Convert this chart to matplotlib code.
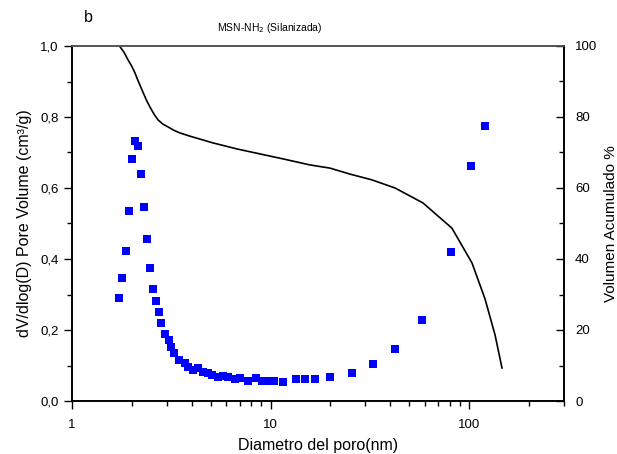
import matplotlib
matplotlib.use("Agg")
import matplotlib.pyplot as plt
from matplotlib.ticker import FixedLocator, FuncFormatter, MultipleLocator, LogLocator, NullFormatter

plt.rcParams['font.family'] = ['Liberation Sans', 'DejaVu Sans']

# Pore size distribution (scatter, left axis)
diam_nm = [1.725, 1.785, 1.870, 1.937, 2.005, 2.076, 2.149, 2.225, 2.304, 2.385,
           2.469, 2.556, 2.646, 2.741, 2.808, 2.93, 3.08, 3.17, 3.28, 3.46,
           3.71, 3.84, 4.07, 4.31, 4.57, 4.84, 5.07, 5.44, 5.76, 6.11,
           6.63, 7.02, 7.70, 8.45, 9.06, 9.71, 10.4, 11.56, 13.4, 14.9,
           16.8, 19.95, 25.7, 32.8, 42.4, 58.0, 81.2, 102.4, 120.5]
dv_dlogd = [0.290, 0.346, 0.423, 0.535, 0.682, 0.732, 0.718, 0.639, 0.546, 0.456,
            0.375, 0.315, 0.282, 0.251, 0.220, 0.189, 0.172, 0.152, 0.135, 0.115,
            0.107, 0.096, 0.087, 0.093, 0.082, 0.079, 0.073, 0.068, 0.070, 0.068,
            0.062, 0.065, 0.056, 0.065, 0.056, 0.056, 0.056, 0.054, 0.062, 0.062,
            0.062, 0.068, 0.079, 0.104, 0.146, 0.228, 0.420, 0.662, 0.775]

# Cumulative volume (line, right axis)
cum_diam = [1.70, 1.745, 1.83, 1.915, 2.0, 2.076, 2.16, 2.253, 2.36, 2.47, 2.59,
            2.71, 2.87, 3.045, 3.25, 3.50, 3.93,
            5.13, 6.78, 8.85, 11.56, 15.8, 19.94, 25.2, 32.4, 42.4, 58.6,
            82.0, 103.5, 120.5, 135.3, 146.6]
cum_pct = [100.5, 99.8, 98.2, 96.1, 94.3, 92.4, 90.0, 87.6, 85.0, 82.8, 80.8,
           79.2, 78.0, 77.2, 76.3, 75.5, 74.6,
           72.7, 71.0, 69.6, 68.2, 66.5, 65.6, 63.9, 62.3, 60.0, 55.8,
           48.7, 38.9, 28.7, 18.6, 9.3]

left_ticks = [0.0, 0.2, 0.4, 0.6, 0.8, 1.0]
right_ticks = [0, 20, 40, 60, 80, 100]
x_ticks = [1, 10, 100]

fig = plt.figure(figsize=(6.17, 4.54), dpi=100)
ax = fig.add_axes([72/617, 1-401/454, (564-72)/617, (401-46)/454])

ax.plot(diam_nm, dv_dlogd, 's', color=(0, 0, 1), markersize=5.8, markeredgewidth=0, zorder=3)
ax.set_xscale('log')
ax.set_xlim(1, 301)
ax.set_ylim(0, 1.0)
ax.xaxis.set_major_locator(FixedLocator(x_ticks))
ax.xaxis.set_major_formatter(FuncFormatter(lambda v, p: f"{v:g}"))
ax.xaxis.set_minor_locator(LogLocator(base=10, subs=range(2, 10)))
ax.xaxis.set_minor_formatter(NullFormatter())
ax.yaxis.set_major_locator(FixedLocator(left_ticks))
ax.yaxis.set_minor_locator(MultipleLocator(0.1))
ax.yaxis.set_major_formatter(FuncFormatter(lambda v, p: f"{v:.1f}".replace('.', ',')))
ax.tick_params(which='major', direction='out', length=6, width=1, labelsize=9.5, top=False)
ax.tick_params(which='minor', direction='out', length=3.5, width=1, top=False)
ax.tick_params(axis='x', which='major', pad=7)
ax.set_xlabel('Diametro del poro(nm)', fontsize=11.5, labelpad=5)
ax.set_ylabel('dV/dlog(D) Pore Volume (cm³/g)', fontsize=11.5, labelpad=6)
for s in ax.spines.values():
    s.set_linewidth(1.2)
ax.spines['top'].set_color('#555555')

ax2 = ax.twinx()
ax2.plot(cum_diam, cum_pct, '-', color='black', linewidth=1.2, zorder=2)
ax2.set_ylim(0, 100)
ax2.yaxis.set_major_locator(FixedLocator(right_ticks))
ax2.yaxis.set_minor_locator(MultipleLocator(10))
ax2.tick_params(which='major', direction='in', length=6, width=1, labelsize=9.5, pad=8)
ax2.tick_params(which='minor', direction='in', length=3.5, width=1)
ax2.set_ylabel('Volumen Acumulado %', fontsize=11, labelpad=5)
for s in ax2.spines.values():
    s.set_linewidth(1.2)
ax2.spines['top'].set_color('#555555')
ax2.spines['top'].set_zorder(5)

fig.text(270/617, 1-28/454, 'MSN-NH$_2$ (Silanizada)', fontsize=7.5, ha='center', va='center')
fig.text(88/617, 1-18/454, 'b', fontsize=11.5, ha='center', va='center')

fig.savefig('out.png', dpi=100)
